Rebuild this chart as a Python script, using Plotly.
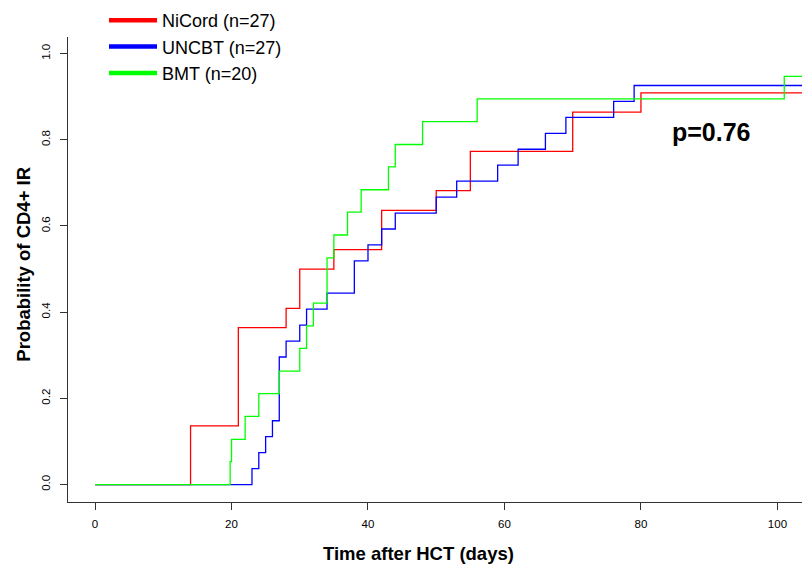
import plotly.graph_objects as go

# ---- data ----
nicord_t = [0, 14, 21, 28, 30, 35, 42, 50, 55, 70, 80, 104]
nicord_p = [0, 0.136, 0.364, 0.409, 0.500, 0.545, 0.636, 0.682, 0.773, 0.864, 0.909, 0.909]

uncbt_t = [0, 23, 24, 25, 26, 27, 28, 30, 31, 34, 38, 40, 42, 44, 50, 53, 59, 62, 66, 69, 76, 79, 104]
uncbt_p = [0, 0.037, 0.074, 0.111, 0.148, 0.296, 0.333, 0.370, 0.407, 0.444, 0.519, 0.556,
           0.593, 0.630, 0.667, 0.704, 0.741, 0.778, 0.815, 0.852, 0.889, 0.926, 0.926]

bmt_t = [0, 19.8, 20.0, 22, 24, 27, 30, 31, 32, 34, 35, 37, 39, 43, 44, 48, 56, 101, 104]
bmt_p = [0, 0.053, 0.105, 0.158, 0.211, 0.263, 0.316, 0.368, 0.421, 0.526, 0.579, 0.632,
         0.684, 0.737, 0.789, 0.842, 0.895, 0.947, 0.947]

series_names = ["NiCord (n=27)", "UNCBT (n=27)", "BMT (n=20)"]
series_colors = ["#FF0000", "#0000FF", "#00FF00"]

x_ticks = [0, 20, 40, 60, 80, 100]
y_ticks = [0.0, 0.2, 0.4, 0.6, 0.8, 1.0]
y_tick_text = ["0.0", "0.2", "0.4", "0.6", "0.8", "1.0"]

p_text = "p=0.76"
x_title = "Time after HCT (days)"
y_title = "Probability of CD4+ IR"

FONT = "Liberation Sans, Arial, Helvetica, sans-serif"

FIG_W, FIG_H = 802, 566
PLOT_L, PLOT_T, PLOT_B = 68, 37, 502          # window pixels
PLOT_W, PLOT_H = FIG_W - PLOT_L, PLOT_B - PLOT_T

fig = go.Figure()
all_data = [(nicord_t, nicord_p), (uncbt_t, uncbt_p), (bmt_t, bmt_p)]
for (t, p), name, col in zip(all_data, series_names, series_colors):
    fig.add_trace(go.Scatter(x=t, y=p, mode="lines", line=dict(color=col, width=1.3, shape="hv"),
                             name=name, showlegend=False, hoverinfo="x+y+name"))
# legend entries (thick lines as in the reference)
for name, col in zip(series_names, series_colors):
    fig.add_trace(go.Scatter(x=[None], y=[None], mode="lines", line=dict(color=col, width=4.5),
                             name=name, showlegend=True))

fig.update_layout(
    width=FIG_W, height=FIG_H,
    margin=dict(l=PLOT_L, r=0, t=PLOT_T, b=FIG_H - PLOT_B, autoexpand=False),
    paper_bgcolor="white", plot_bgcolor="white",
    font=dict(family=FONT, color="black"),
    showlegend=True,
    legend=dict(x=(104 - PLOT_L) / PLOT_W, y=1 + (PLOT_T - 2) / PLOT_H, xanchor="left", yanchor="top",
                xref="paper", yref="paper",
                font=dict(family=FONT, size=18, color="black"),
                bgcolor="rgba(0,0,0,0)", borderwidth=0, itemwidth=48,
                tracegroupgap=0),
    xaxis=dict(range=[-3.96, 103.6], tickmode="array", tickvals=x_ticks,
               showline=True, linecolor="#333", linewidth=1, mirror=False,
               ticks="outside", ticklen=7, tickcolor="#333", tickwidth=1,
               showgrid=False, zeroline=False,
               tickfont=dict(family=FONT, size=11.5, color="black"),
               ticklabelstandoff=4),
    yaxis=dict(range=[-0.0405, 1.0385], tickmode="array", tickvals=y_ticks, ticktext=y_tick_text,
               showline=True, linecolor="#333", linewidth=1, mirror=False,
               ticks="outside", ticklen=7, tickcolor="#333", tickwidth=1,
               showgrid=False, zeroline=False, tickangle=-90,
               tickfont=dict(family=FONT, size=11.5, color="black"),
               ticklabelstandoff=5),
    annotations=[
        dict(text=p_text, x=90.3, y=0.8186, xref="x", yref="y", showarrow=False,
             xanchor="center", yanchor="middle",
             font=dict(family=FONT, size=25, color="black", weight="bold")),
        dict(text=x_title, x=(418 - PLOT_L) / PLOT_W, y=(PLOT_B - 553) / PLOT_H,
             xref="paper", yref="paper",
             showarrow=False, xanchor="center", yanchor="middle",
             font=dict(family=FONT, size=18.5, color="black", weight="bold")),
        dict(text=y_title, x=(23.5 - PLOT_L) / PLOT_W, y=(PLOT_B - 264.2) / PLOT_H,
             xref="paper", yref="paper",
             showarrow=False, xanchor="center", yanchor="middle", textangle=-90,
             font=dict(family=FONT, size=18.5, color="black", weight="bold")),
    ],
)

# remove the page's default 8px body margin so the 802x566 figure fills the window exactly
fig.write_html("out.html",
               config={"displayModeBar": False},
               post_script="document.body.style.margin='0';document.body.style.overflow='hidden';")
